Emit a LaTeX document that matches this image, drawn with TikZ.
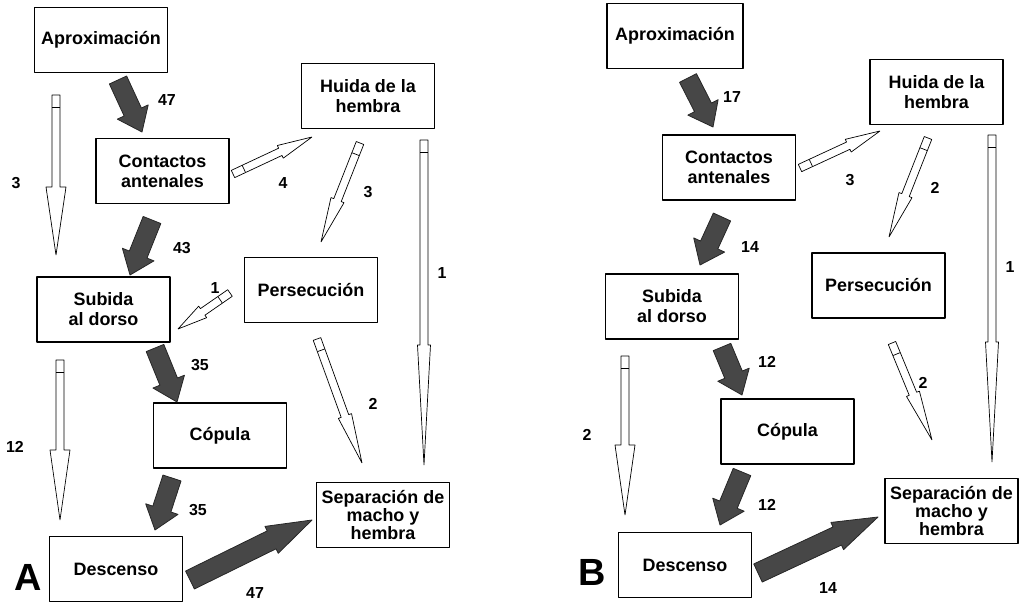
\documentclass[tikz,border=0pt]{standalone}
\usepackage{fontspec}
\setmainfont{Liberation Sans}
\usetikzlibrary{calc}

\tikzset{
  caja/.style={draw, line width=1.8bp, minimum width=133bp, minimum height=65bp, inner sep=1bp, align=center, font=\bfseries\fontsize{18}{20}\selectfont},
  num/.style={font=\bfseries\fontsize{16}{18}\selectfont},
  letra/.style={font=\bfseries\fontsize{38}{40}\selectfont},
  gruesa/.style={fill=black!72, draw=black!85, line width=0.8bp, line join=round},
  fina/.style={fill=white, draw=black, line width=0.7bp},
}

\newcommand{\flecha}[6]{%
  \coordinate (fl_n) at ($(#3)!#6!(#2)$);
  \filldraw[#1] ($(#2)!#4!90:(#3)$) -- ($(fl_n)!#4!90:(#3)$) -- ($(fl_n)!#5!90:(#3)$)
    -- (#3) -- ($(fl_n)!#5!-90:(#3)$) -- ($(fl_n)!#4!-90:(#3)$) -- ($(#2)!#4!-90:(#3)$) -- cycle;
}
\newcommand{\gruesa}[2]{\flecha{gruesa}{#1}{#2}{9.5bp}{17bp}{22bp}}
\newcommand{\lapiz}[4]{%
  \flecha{fina}{#1}{#2}{4bp}{#4}{#3}
  \coordinate (fl_b) at ($(#1)!12bp!(#2)$);
  \draw[fina] ($(fl_b)!4bp!90:(#2)$) -- ($(fl_b)!4bp!-90:(#2)$);
}

\begin{document}
\begin{tikzpicture}[line join=bevel]
\useasboundingbox (0bp,0bp) rectangle (1025bp,603bp);
%%
\node (aprox_a) at (101bp,563bp) [caja] {Aproximación};
  \node (cont_a) at (162.5bp,432bp) [caja] {Contactos\\antenales};
  \node (huida_a) at (368bp,507bp) [caja] {Huida de la\\hembra};
  \node (pers_a) at (311bp,313bp) [caja] {Persecución};
  \node (subida_a) at (103.5bp,293.5bp) [caja] {Subida\\al dorso};
  \node (copula_a) at (220bp,167.5bp) [caja] {Cópula};
  \node (desc_a) at (116bp,34bp) [caja] {Descenso};
  \node (sep_a) at (383bp,88bp) [caja, font=\bfseries\fontsize{18}{15}\selectfont] {Separación de\\macho y\\hembra};
  \node (let_a) at (28bp,26bp) [letra] {A};
%
\node (aprox_b) at (675bp,567bp) [caja, minimum width=136bp] {Aproximación};
  \node (cont_b) at (729bp,435.5bp) [caja] {Contactos\\antenales};
  \node (huida_b) at (936.5bp,511bp) [caja] {Huida de la\\hembra};
  \node (pers_b) at (878.5bp,317.5bp) [caja] {Persecución};
  \node (subida_b) at (672bp,296.5bp) [caja] {Subida\\al dorso};
  \node (copula_b) at (787.5bp,171.5bp) [caja] {Cópula};
  \node (desc_b) at (685bp,38bp) [caja] {Descenso};
  \node (sep_b) at (951.5bp,92bp) [caja, font=\bfseries\fontsize{18}{15}\selectfont] {Separación de\\macho y\\hembra};
  \node (let_b) at (592bp,31bp) [letra] {B};
%%
\coordinate (aprox_a_o) at (118bp,523bp);   \coordinate (cont_a_i) at (142bp,471bp);
\coordinate (cont_a_o) at (152bp,383bp);    \coordinate (subida_a_i) at (130bp,328bp);
\coordinate (subida_a_o) at (155bp,255bp);  \coordinate (copula_a_i) at (177bp,201bp);
\coordinate (copula_a_o) at (172bp,125bp);  \coordinate (desc_a_i) at (155bp,73bp);
\coordinate (desc_a_o) at (190bp,23bp);     \coordinate (sep_a_i) at (312bp,83bp);
\coordinate (aprox_a_l) at (56bp,508bp);    \coordinate (subida_a_l) at (56bp,348bp);
\coordinate (cont_a_r) at (233bp,429bp);    \coordinate (huida_a_l) at (312bp,466bp);
\coordinate (huida_a_b) at (360bp,460bp);   \coordinate (pers_a_t) at (321bp,361bp);
\coordinate (huida_a_r) at (424bp,463bp);   \coordinate (sep_a_t) at (424bp,138bp);
\coordinate (pers_a_l) at (230bp,310bp);    \coordinate (subida_a_r) at (178bp,274bp);
\coordinate (subida_a_l2) at (60bp,243bp);  \coordinate (desc_a_t) at (60bp,83bp);
\coordinate (pers_a_b) at (317bp,264bp);    \coordinate (sep_a_t2) at (362bp,140bp);
%
\coordinate (aprox_b_o) at (688bp,525bp);   \coordinate (cont_b_i) at (713bp,476bp);
\coordinate (cont_b_o) at (722bp,386bp);    \coordinate (subida_b_i) at (700bp,338bp);
\coordinate (subida_b_o) at (722bp,256bp);  \coordinate (copula_b_i) at (742bp,208bp);
\coordinate (copula_b_o) at (742bp,131bp);  \coordinate (desc_b_i) at (720bp,78bp);
\coordinate (desc_b_o) at (758bp,30bp);     \coordinate (sep_b_i) at (878bp,86bp);
\coordinate (cont_b_r) at (800bp,435bp);    \coordinate (huida_b_l) at (880bp,472bp);
\coordinate (huida_b_b) at (928bp,465bp);   \coordinate (pers_b_t) at (889bp,366bp);
\coordinate (huida_b_r) at (992bp,468bp);   \coordinate (sep_b_t) at (992bp,141bp);
\coordinate (subida_b_l) at (625bp,247bp);  \coordinate (desc_b_t) at (625bp,88bp);
\coordinate (pers_b_b) at (892bp,260bp);    \coordinate (sep_b_t2) at (932bp,163bp);
%%
\gruesa{aprox_a_o}{cont_a_i}
\gruesa{cont_a_o}{subida_a_i}
\gruesa{subida_a_o}{copula_a_i}
\gruesa{copula_a_o}{desc_a_i}
\flecha{gruesa}{desc_a_o}{sep_a_i}{10bp}{15bp}{45bp}
\lapiz{aprox_a_l}{subida_a_l}{68bp}{10bp}
\lapiz{cont_a_r}{huida_a_l}{35bp}{7bp}
\lapiz{huida_a_b}{pers_a_t}{45bp}{7bp}
\lapiz{huida_a_r}{sep_a_t}{120bp}{6.5bp}
\lapiz{pers_a_l}{subida_a_r}{30bp}{7bp}
\lapiz{subida_a_l2}{desc_a_t}{70bp}{10bp}
\lapiz{pers_a_b}{sep_a_t2}{50bp}{7bp}
%
\gruesa{aprox_b_o}{cont_b_i}
\gruesa{cont_b_o}{subida_b_i}
\gruesa{subida_b_o}{copula_b_i}
\gruesa{copula_b_o}{desc_b_i}
\flecha{gruesa}{desc_b_o}{sep_b_i}{10bp}{15bp}{45bp}
\lapiz{cont_b_r}{huida_b_l}{35bp}{7bp}
\lapiz{huida_b_b}{pers_b_t}{45bp}{7bp}
\lapiz{huida_b_r}{sep_b_t}{120bp}{6.5bp}
\lapiz{subida_b_l}{desc_b_t}{70bp}{10bp}
\lapiz{pers_b_b}{sep_b_t2}{50bp}{7bp}
%%
\node (n_a1) at (167bp,503bp) [num] {47};
  \node (n_a2) at (16bp,420bp) [num] {3};
  \node (n_a3) at (182bp,355bp) [num] {43};
  \node (n_a4) at (283bp,420bp) [num] {4};
  \node (n_a5) at (368bp,411bp) [num] {3};
  \node (n_a6) at (442bp,330bp) [num] {1};
  \node (n_a7) at (215bp,315bp) [num] {1};
  \node (n_a8) at (200bp,238bp) [num] {35};
  \node (n_a9) at (15bp,156bp) [num] {12};
  \node (n_a10) at (198bp,93bp) [num] {35};
  \node (n_a11) at (373bp,199bp) [num] {2};
  \node (n_a12) at (255bp,10bp) [num] {47};
\node (n_b1) at (732bp,506bp) [num] {17};
  \node (n_b2) at (750bp,356bp) [num] {14};
  \node (n_b3) at (850bp,423bp) [num] {3};
  \node (n_b4) at (935bp,415bp) [num] {2};
  \node (n_b5) at (1010bp,336bp) [num] {1};
  \node (n_b6) at (767bp,241bp) [num] {12};
  \node (n_b7) at (587bp,168bp) [num] {2};
  \node (n_b8) at (767bp,98bp) [num] {12};
  \node (n_b9) at (923bp,220bp) [num] {2};
  \node (n_b10) at (828bp,15bp) [num] {14};
%
\end{tikzpicture}
\end{document}
